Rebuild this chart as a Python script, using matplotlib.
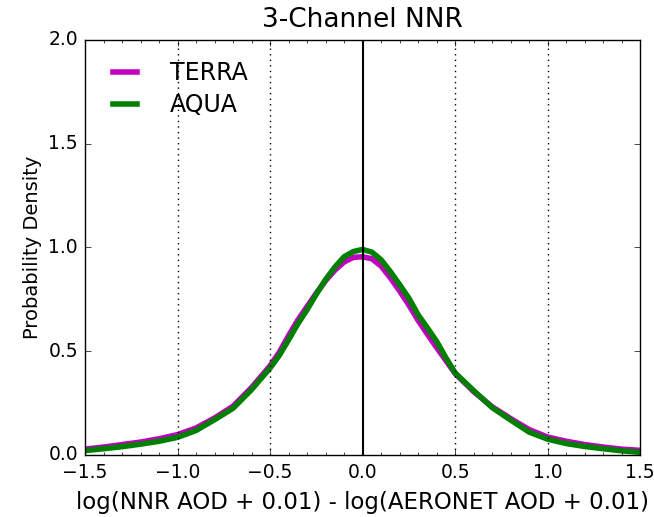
import matplotlib
matplotlib.use("Agg")
import matplotlib.pyplot as plt
from matplotlib.ticker import MultipleLocator

# Values (kernel density estimates)
x_vals = [-1.5, -1.4, -1.3, -1.2, -1.1, -1.0, -0.9, -0.8, -0.7, -0.6, -0.5,
          -0.45, -0.4, -0.35, -0.3, -0.25, -0.2, -0.15, -0.1, -0.05, 0.0,
          0.05, 0.1, 0.15, 0.2, 0.25, 0.3, 0.35, 0.4, 0.45, 0.5,
          0.6, 0.7, 0.8, 0.9, 1.0, 1.1, 1.2, 1.3, 1.4, 1.5]
terra = [0.028, 0.038, 0.050, 0.062, 0.078, 0.098, 0.130, 0.178, 0.235, 0.325,
         0.430, 0.495, 0.575, 0.650, 0.715, 0.780, 0.840, 0.890, 0.930, 0.952,
         0.955, 0.945, 0.910, 0.853, 0.790, 0.722, 0.648, 0.582, 0.517, 0.455,
         0.392, 0.305, 0.232, 0.175, 0.122, 0.086, 0.066, 0.050, 0.038, 0.028,
         0.022]
aqua = [0.021, 0.030, 0.040, 0.052, 0.066, 0.085, 0.118, 0.170, 0.225, 0.315,
        0.419, 0.480, 0.555, 0.632, 0.700, 0.775, 0.845, 0.905, 0.955, 0.980,
        0.990, 0.977, 0.940, 0.883, 0.820, 0.755, 0.675, 0.612, 0.547, 0.468,
        0.395, 0.310, 0.228, 0.168, 0.110, 0.076, 0.055, 0.041, 0.030, 0.020,
        0.013]

plt.style.use("classic")

fig = plt.figure(figsize=(6.54, 5.17), dpi=100, facecolor="white")
ax = fig.add_axes([0.130, 0.120, 0.849, 0.803])

ax.plot(x_vals, terra, color="m", lw=4, label="TERRA")
ax.plot(x_vals, aqua, color="g", lw=4, label="AQUA")

# reference lines
ax.axvline(0.0, color="k", lw=1.5)
for xv in [-1.0, -0.5, 0.5, 1.0]:
    ax.axvline(xv, color="k", ls=":", lw=1)

ax.set_xlim(-1.5, 1.5)
ax.set_ylim(0, 2.0)
ax.xaxis.set_major_locator(MultipleLocator(0.5))
ax.xaxis.set_minor_locator(MultipleLocator(0.1))
ax.yaxis.set_major_locator(MultipleLocator(0.5))
ax.yaxis.set_minor_locator(MultipleLocator(10))
ax.tick_params(labelsize=13.5)
ax.tick_params(axis="x", pad=6)
ax.tick_params(axis="y", pad=5)

ax.set_title("3-Channel NNR", fontsize=19, pad=9)
ax.set_xlabel("log(NNR AOD + 0.01) - log(AERONET AOD + 0.01)", fontsize=16.5,
              labelpad=6)
ax.set_ylabel("Probability Density", fontsize=14)

ax.legend(loc="upper left", frameon=False, fontsize=17, handlelength=1.6,
          handletextpad=1.1, labelspacing=0.35)

fig.savefig("out.png", dpi=100, facecolor="white")
